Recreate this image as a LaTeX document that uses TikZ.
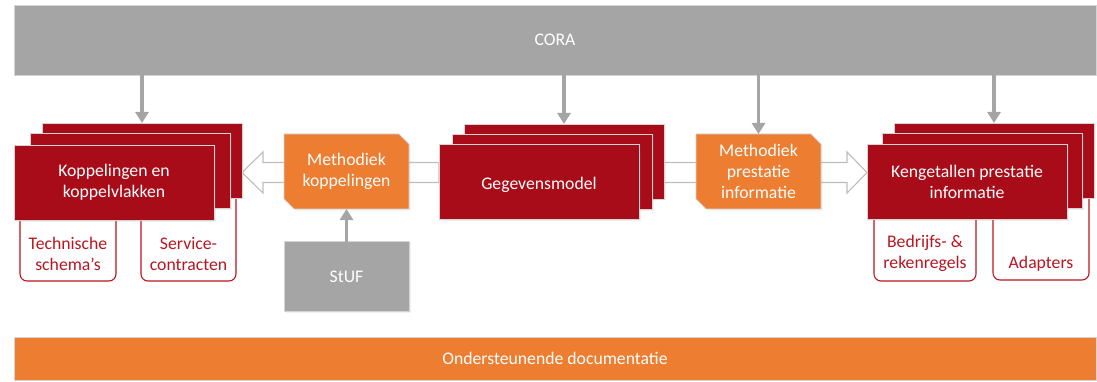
\documentclass[tikz,border=0pt]{standalone}
\usepackage{fontspec}
\setmainfont{Carlito}
\usetikzlibrary{arrows.meta,calc,shadows}
\pgfdeclarelayer{bg}
\pgfdeclarelayer{mid}
\pgfsetlayers{bg,mid,main}

\definecolor{boxred}{HTML}{A90C19}
\definecolor{subred}{HTML}{B8151F}
\definecolor{orng}{HTML}{ED7D31}
\definecolor{grey}{HTML}{A5A5A5}
\definecolor{rim}{HTML}{D4D4D4}
\definecolor{hollowline}{HTML}{BDBDBD}

\begin{document}
\begin{tikzpicture}[x=1pt,y=-1pt,
  font=\fontsize{17.7}{21}\selectfont,
  % a tall invisible rule on the first line sets the text a little lower in its box
  lowered/.style={execute at begin node={\rule{0pt}{18.5pt}}},
  basebox/.style={rectangle, inner sep=0pt, outer sep=0pt, draw=rim, line width=0.9pt, align=center, text=white},
  shade/.style={drop shadow={opacity=0.12, shadow xshift=1.5pt, shadow yshift=-1.5pt}},
  redbox/.style={basebox, lowered, fill=boxred, minimum width=200pt, minimum height=75pt, shade},
  greybar/.style={basebox, fill=grey},
  orangebar/.style={basebox, fill=orng},
  snipbox/.style={rectangle, inner sep=0pt, outer sep=0pt, align=center, text=white, minimum width=125pt, minimum height=75pt, lowered},
  snipfill/.style={fill=orng, draw=rim, line width=0.9pt, shade},
  subtext/.style={rectangle, inner sep=0pt, outer sep=0pt, align=center, text=subred, minimum height=55pt, lowered},
  subframe/.style={draw=subred, line width=1.1pt, rounded corners=7pt},
  feed/.style={draw=grey, line width=3.5pt, -{Triangle[width=13pt,length=11pt]}},
  hollow/.style={draw=hollowline, fill=white, line width=1.1pt, line join=miter},
]
\useasboundingbox (0,0) rectangle (1097,382);

% top and bottom bars
\node[greybar, minimum width=1082pt, minimum height=70pt] (cora) at (555,40) {CORA};
\node[orangebar, minimum width=1082pt, minimum height=43pt] (docs) at (555,358.5) {Ondersteunende documentatie};

% labels hanging under the stacks
\node[subtext, minimum width=96pt]  (tech) at (68,253.5)   {Technische\\schema’s};
\node[subtext, minimum width=95pt]  (serv) at (188.5,253.5) {Service-\\contracten};
\node[subtext, minimum width=102pt] (bedr) at (925,253.5)  {Bedrijfs- \&\\rekenregels};
\node[subtext, minimum width=96pt]  (adap) at (1041,252.5) {\strut\\Adapters};

% stacked red boxes (back, middle, front)
\node[redbox] (kopC) at (142,160.5) {};
\node[redbox] (kopB) at (130,170.5) {};
\node[redbox] (kop)  at (114,182.5) {Koppelingen en\\koppelvlakken};

\node[redbox] (gmC) at (564,161.5) {};
\node[redbox] (gmB) at (552,171.5) {};
\node[redbox] (gm)  at (539,181.5) {Gegevensmodel};

\node[redbox] (kenC) at (994,160.5) {};
\node[redbox] (kenB) at (982,170.5) {};
\node[redbox] (ken)  at (967,181.5) {Kengetallen prestatie\\informatie};

% method boxes with snipped corners
\node[snipbox] (mk) at (346.5,171.5) {Methodiek\\koppelingen};
\node[snipbox] (mp) at (758.5,171.5) {Methodiek\\prestatie\\informatie};

\node[greybar, minimum width=125pt, minimum height=70pt, shade] (stuf) at (346.5,276.5) {StUF};

\begin{pgfonlayer}{mid}
  \foreach \n in {mk,mp}
    \path[snipfill] (\n.north west) -- ($(\n.north east)+(-10,0)$) -- ($(\n.north east)+(0,10)$)
      -- (\n.south east) -- ($(\n.south west)+(10,0)$) -- ($(\n.south west)+(0,-10)$) -- cycle;
\end{pgfonlayer}

\begin{pgfonlayer}{bg}
  \foreach \n in {tech,serv,bedr,adap}
    \draw[subframe] ($(\n.north west)+(0,-30)$) -- (\n.south west) -- (\n.south east) -- ($(\n.north east)+(0,-30)$);
  \coordinate (axis) at (0,172.5);
  % hollow block arrow to the left
  \path[hollow] (kopC.east |- axis) -- ++(21,-20.5) -- ++(0,10.5)
    -- ($(gm.west |- axis)+(0,-10)$) -- ($(gm.west |- axis)+(0,10)$)
    -- ($(kopC.east |- axis)+(21,10)$) -- ++(0,10.5) -- cycle;
  % hollow block arrow to the right
  \path[hollow] (ken.west |- axis) -- ++(-20,-20.5) -- ++(0,10.5)
    -- ($(gmC.east |- axis)+(0,-10)$) -- ($(gmC.east |- axis)+(0,10)$)
    -- ($(ken.west |- axis)+(-20,10)$) -- ++(0,10.5) -- cycle;
\end{pgfonlayer}

% feeds from CORA and StUF
\draw[feed] (cora.south -| kopC.north) -- (kopC.north);
\draw[feed] (cora.south -| gmC.north) -- (gmC.north);
\draw[feed] (cora.south -| mp.north) -- (mp.north);
\draw[feed] (cora.south -| kenC.north) -- (kenC.north);
\draw[feed] (stuf.north) -- (mk.south);
\end{tikzpicture}
\end{document}
